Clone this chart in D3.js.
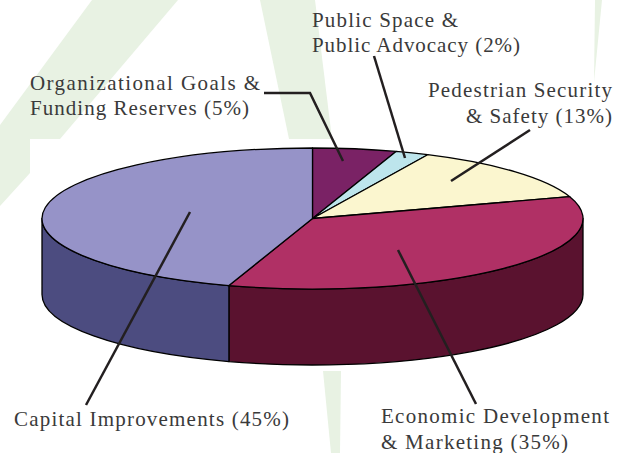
<!DOCTYPE html>
<html>
<head>
<meta charset="utf-8">
<script src="https://cdn.jsdelivr.net/npm/d3@7"></script>
<style>
  html, body { margin: 0; padding: 0; background: #fff; }
  svg { display: block; }
  text { font-family: "Liberation Serif", serif; font-size: 21px; fill: #3a3a3a; }
</style>
</head>
<body>
<svg id="chart" width="623" height="453"></svg>
<script>
const categories = ['Organizational Goals', 'Public Space', 'Pedestrian Security', 'Economic Development', 'Capital Improvements'];
const shares = [5, 2, 13, 35, 45];
const topColors = ['#7a2265', '#bde5ec', '#fbf6cf', '#b03065', '#9693c8'];
const sideColors = ['#4f1a47', '#7fa3aa', '#b5b08c', '#5a122f', '#4c4c80'];

const CX = 312.5, CY = 218.5, RX = 270.5, RY = 70.5, DEPTH = 76;

const svg = d3.select('#chart');

// pale letter shapes behind the pie
const backdrop = [
  [[92, 0], [178, 0], [60, 139], [30, 139], [30, 173], [0, 206], [0, 125]],
  [[260, 0], [315, 0], [332, 139], [289, 139]],
  [[595, 0], [602, 0], [594, 82]],
  [[323, 371], [341, 371], [340, 453], [331, 453]]
];
svg.selectAll('polygon')
  .data(backdrop)
  .join('polygon')
  .attr('points', d => d.join(' '))
  .attr('fill', '#e8f2e3');

const slices = d3.pie().sort(null).value(d => d)(shares)
  .map((d, i) => ({ ...d, name: categories[i] }));

const px = a => CX + RX * Math.sin(a);
const py = a => CY - RY * Math.cos(a);

// front wall, only the part of each slice facing the viewer
const FRONT_START = Math.PI / 2, FRONT_END = Math.PI * 1.5;
const walls = slices.filter(d => d.endAngle > FRONT_START && d.startAngle < FRONT_END);

svg.append('g')
  .selectAll('path')
  .data(walls)
  .join('path')
  .attr('d', d => {
    const a0 = Math.max(d.startAngle, FRONT_START);
    const a1 = Math.min(d.endAngle, FRONT_END);
    return `M${px(a0)},${py(a0)}`
      + `A${RX},${RY} 0 0 1 ${px(a1)},${py(a1)}`
      + `L${px(a1)},${py(a1) + DEPTH}`
      + `A${RX},${RY} 0 0 0 ${px(a0)},${py(a0) + DEPTH}Z`;
  })
  .attr('fill', d => sideColors[d.index])
  .attr('stroke', '#000')
  .attr('stroke-width', 1.3)
  .attr('stroke-linejoin', 'round');

const arc = d3.arc().innerRadius(0).outerRadius(RX);

svg.append('g')
  .attr('transform', `translate(${CX},${CY}) scale(1,${RY / RX})`)
  .selectAll('path')
  .data(slices)
  .join('path')
  .attr('d', arc)
  .attr('fill', d => topColors[d.index])
  .attr('stroke', '#000')
  .attr('stroke-width', 1.3)
  .attr('stroke-linejoin', 'round')
  .attr('vector-effect', 'non-scaling-stroke');

// leader lines
const leaders = [
  [[264, 93], [310, 93], [343, 161]],
  [[374, 56], [405, 158]],
  [[530, 130], [451, 181]],
  [[398, 250], [476, 404]],
  [[190, 212], [86, 405]]
];
svg.append('g')
  .selectAll('path')
  .data(leaders)
  .join('path')
  .attr('d', d3.line())
  .attr('fill', 'none')
  .attr('stroke', '#231f20')
  .attr('stroke-width', 2.5);

// w is the measured line width, the original face is wider than Liberation Serif
const labels = [
  { t: 'Organizational Goals &', x: 30, y: 90, w: 230 },
  { t: 'Funding Reserves (5%)', x: 30, y: 115, w: 219 },
  { t: 'Public Space &', x: 312, y: 27, w: 146 },
  { t: 'Public Advocacy (2%)', x: 312, y: 52, w: 208 },
  { t: 'Pedestrian Security', x: 612, y: 97, w: 184, end: true },
  { t: '& Safety (13%)', x: 612, y: 123, w: 146, end: true },
  { t: 'Economic Development', x: 381, y: 423, w: 228 },
  { t: '& Marketing (35%)', x: 381, y: 449, w: 187 },
  { t: 'Capital Improvements (45%)', x: 14, y: 426, w: 275 }
];
svg.append('g')
  .selectAll('text')
  .data(labels)
  .join('text')
  .text(d => d.t)
  .attr('x', d => d.x)
  .attr('y', d => d.y)
  .attr('textLength', d => d.w)
  .attr('lengthAdjust', 'spacing')
  .attr('text-anchor', d => d.end ? 'end' : 'start');
</script>
</body>
</html>
